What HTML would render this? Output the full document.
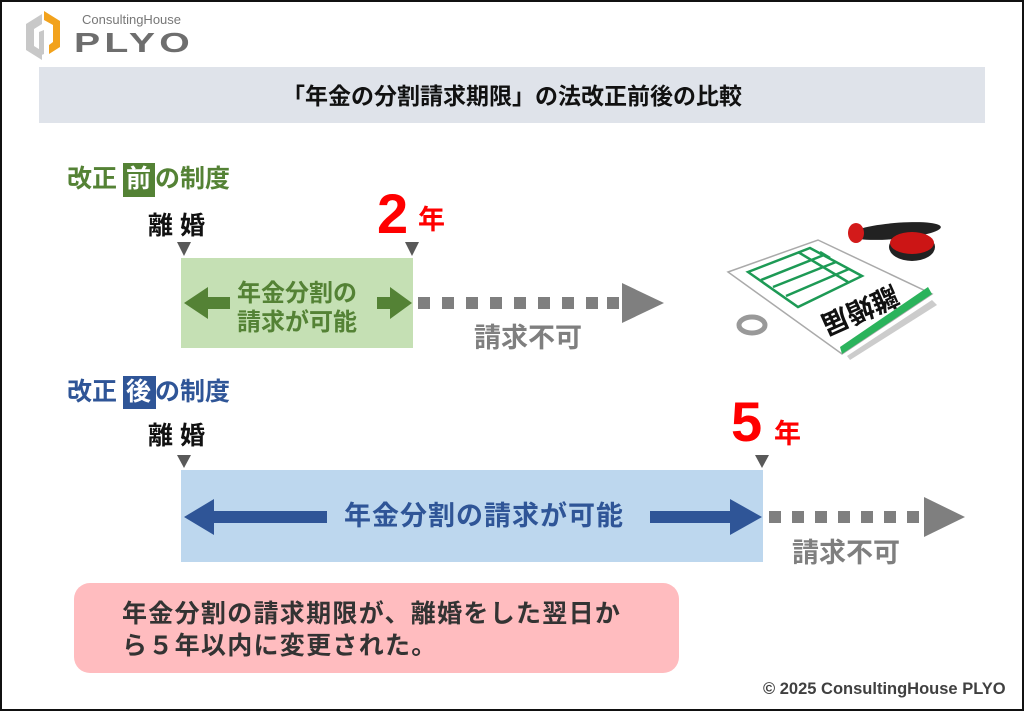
<!DOCTYPE html>
<html><head><meta charset="utf-8"><style>
html,body{margin:0;padding:0}
body{width:1024px;height:711px;position:relative;overflow:hidden;background:#fff;font-family:"Liberation Sans","Noto Sans CJK JP",sans-serif;font-weight:bold}
.t{position:absolute;white-space:nowrap;line-height:1}
</style></head><body>
<svg width="1024" height="711" style="position:absolute;left:0;top:0">
<rect x="1" y="1" width="1022" height="709" fill="#fff" stroke="#111" stroke-width="2"/>
<!-- logo -->
<path d="M26 24 L42 14 L42 24 L34 29 L34 46 L42 51 L42 60 L26 50 Z" fill="#c8c8c8"/>
<path d="M44 11 L60 21 L60 47 L49 54 L49 45 L53 42 L53 25 L44 20 Z" fill="#f2a21c"/>
<path d="M39 32 L44 30 L44 54 L39 56 Z" fill="#c8c8c8"/>
<rect x="39" y="67" width="946" height="56" fill="#dfe3ea"/>
<!-- before -->
<rect x="123" y="163" width="32" height="34" fill="#548235"/>
<polygon points="177,242 191,242 184,256" fill="#595959"/>
<polygon points="405,242 419,242 412,256" fill="#595959"/>
<rect x="181" y="258" width="232" height="90" fill="#c5e0b4"/>
<rect x="205" y="297" width="25" height="12" fill="#548235"/>
<polygon points="184,303 208,287 208,319" fill="#548235"/>
<rect x="377" y="297" width="15" height="12" fill="#548235"/>
<polygon points="412,303 390,287 390,319" fill="#548235"/>
<g fill="#7f7f7f">
<rect x="418" y="297" width="12" height="12"/><rect x="442" y="297" width="12" height="12"/><rect x="466" y="297" width="12" height="12"/><rect x="490" y="297" width="12" height="12"/><rect x="514" y="297" width="12" height="12"/><rect x="538" y="297" width="12" height="12"/><rect x="562" y="297" width="12" height="12"/><rect x="586" y="297" width="12" height="12"/><rect x="607" y="297" width="12" height="12"/>
<polygon points="622,283 664,303 622,323"/>
</g>
<!-- illustration -->
<g>
<ellipse cx="895" cy="231" rx="46" ry="8" fill="#222" transform="rotate(-5 895 231)"/>
<ellipse cx="856" cy="233" rx="8" ry="10" fill="#d31a1a"/>
<ellipse cx="912" cy="247" rx="23" ry="14" fill="#222"/>
<ellipse cx="912" cy="243" rx="22" ry="11" fill="#cc1515"/>
<polygon points="932,300 847,356 850,360 937,305" fill="#ccc"/>
<polygon points="728,272 818,240 932,294 842,354" fill="#fff" stroke="#aaa" stroke-width="1.5"/>
<polygon points="842,354 932,294 928,287 840,347" fill="#2bb35c"/>
<g stroke="#1d9a55" stroke-width="2.5" fill="none">
<polygon points="748,272 810,248 862,276 798,307"/>
<line x1="761" y1="280" x2="824" y2="255"/><line x1="773" y1="287" x2="836" y2="262"/><line x1="786" y1="296" x2="849" y2="269"/>
<line x1="798" y1="252" x2="848" y2="282"/><line x1="820" y1="252" x2="830" y2="258"/>
</g>
<text x="0" y="0" font-size="27" font-weight="bold" fill="#111" transform="translate(893,285) rotate(156)" font-family="Noto Sans CJK JP,sans-serif">離婚届</text>
<ellipse cx="752" cy="325" rx="13" ry="8" fill="none" stroke="#999" stroke-width="5"/>
</g>
<!-- after -->
<rect x="123" y="376" width="33" height="33" fill="#2f5597"/>
<polygon points="177,455 191,455 184,468" fill="#595959"/>
<polygon points="755,455 769,455 762,468" fill="#595959"/>
<rect x="181" y="470" width="582" height="92" fill="#bdd7ee"/>
<rect x="210" y="511" width="117" height="12" fill="#2f5597"/>
<polygon points="184,517 214,499 214,535" fill="#2f5597"/>
<rect x="650" y="511" width="85" height="12" fill="#2f5597"/>
<polygon points="762,517 730,499 730,535" fill="#2f5597"/>
<g fill="#7f7f7f">
<rect x="769" y="511" width="12" height="12"/><rect x="792" y="511" width="12" height="12"/><rect x="815" y="511" width="12" height="12"/><rect x="838" y="511" width="12" height="12"/><rect x="861" y="511" width="12" height="12"/><rect x="884" y="511" width="12" height="12"/><rect x="907" y="511" width="12" height="12"/>
<polygon points="924,497 965,517 924,537"/>
</g>
<rect x="74" y="583" width="605" height="90" rx="16" fill="#ffbcbf"/>
</svg>
<div class="t" style="left:82px;top:13px;font-size:13px;color:#777;font-weight:normal">ConsultingHouse</div>
<div class="t" style="left:74px;top:29px;font-size:28px;color:#6e6e6e;letter-spacing:3px;transform:scaleX(1.4);transform-origin:left">PLYO</div>
<div class="t" style="left:0;width:1024px;text-align:center;top:85px;font-size:23px;color:#111">「年金の分割請求期限」の法改正前後の比較</div>
<div class="t" style="left:67px;top:167px;font-size:25px;color:#548235">改正 <span style="color:#fff;margin:0 4px 0 2px">前</span>の制度</div>
<div class="t" style="left:148px;top:214px;font-size:25px;color:#111">離 婚</div>
<div class="t" style="left:377px;top:186px;font-size:56px;color:#f00">2</div>
<div class="t" style="left:418px;top:207px;font-size:27px;color:#f00">年</div>
<div class="t" style="left:237px;top:279px;font-size:24px;color:#548235;text-align:center;line-height:29px">年金分割の<br>請求が可能</div>
<div class="t" style="left:474px;top:325px;font-size:27px;color:#7f7f7f">請求不可</div>
<div class="t" style="left:67px;top:380px;font-size:25px;color:#2f5597">改正 <span style="color:#fff;margin:0 4px 0 2px">後</span>の制度</div>
<div class="t" style="left:148px;top:424px;font-size:25px;color:#111">離 婚</div>
<div class="t" style="left:731px;top:394px;font-size:56px;color:#f00">5</div>
<div class="t" style="left:774px;top:421px;font-size:27px;color:#f00">年</div>
<div class="t" style="left:344px;top:503px;font-size:27px;color:#2f5597;letter-spacing:1px">年金分割の請求が可能</div>
<div class="t" style="left:792px;top:540px;font-size:27px;color:#7f7f7f">請求不可</div>
<div class="t" style="left:122px;top:598px;font-size:25px;color:#333;line-height:32px;letter-spacing:1.3px">年金分割の請求期限が、離婚をした翌日か<br>ら５年以内に変更された。</div>
<div class="t" style="left:763px;top:681px;font-size:16.5px;color:#404040">© 2025 ConsultingHouse PLYO</div>
</body></html>
